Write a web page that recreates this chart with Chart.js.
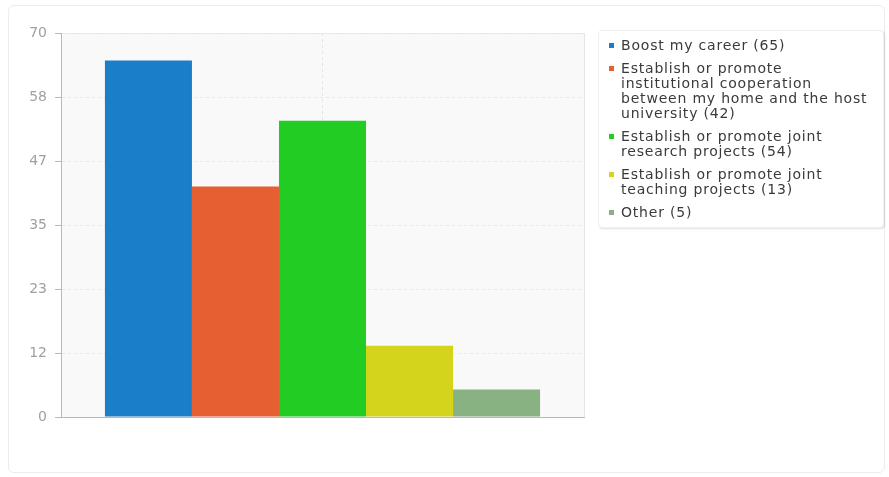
<!DOCTYPE html>
<html>
<head>
<meta charset="utf-8">
<script src="https://cdn.jsdelivr.net/npm/chart.js@4.4.1/dist/chart.umd.min.js"></script>
<style>
  html, body { margin: 0; padding: 0; background: #fff; }
  body { width: 889px; height: 477px; position: relative; overflow: hidden; font-family: "DejaVu Sans", sans-serif; }
  .card { position: absolute; left: 8px; top: 5px; width: 877px; height: 468px; border: 1px solid #ececec; border-radius: 6px; box-sizing: border-box; }
  .chart-wrap { position: absolute; left: 0; top: 0; width: 598px; height: 477px; }
  .legend { position: absolute; left: 598px; top: 30px; width: 286px; height: 198px; box-sizing: border-box;
    background: #fff; border: 1px solid #f0f0f0; border-radius: 4px; box-shadow: 1px 1px 2px rgba(0,0,0,0.12);
    padding: 7px 0 0 10px; }
  .legend-item { display: flex; align-items: flex-start; margin-bottom: 8px; }
  .legend-mark { width: 5px; height: 5px; margin: 5px 7px 0 0; flex: none; }
  .legend-text { width: 255px; font-size: 14px; line-height: 15px; letter-spacing: 0.8px; color: #3a3a3a; }
</style>
</head>
<body>
<div class="card"></div>
<div class="chart-wrap"><canvas id="chart"></canvas></div>
<div class="legend" id="legend"></div>
<script>
  // Data
  const seriesLabels = [
    'Boost my career',
    'Establish or promote institutional cooperation between my home and the host university',
    'Establish or promote joint research projects',
    'Establish or promote joint teaching projects',
    'Other'
  ];
  const seriesValues = [65, 42, 54, 13, 5];
  const seriesColors = ['#1a7fc8', '#e65f33', '#22cc22', '#d4d41c', '#88b282'];
  const yMax = 70;
  const yTickCount = 7;

  // Light plot background and frame, like the original
  const plotFrame = {
    id: 'plotFrame',
    beforeDraw(chart) {
      const a = chart.chartArea;
      const ctx = chart.ctx;
      ctx.save();
      ctx.fillStyle = '#f9f9f9';
      ctx.fillRect(a.left, a.top, a.right - a.left, a.bottom - a.top);
      ctx.strokeStyle = '#e6e6e6';
      ctx.lineWidth = 1;
      ctx.strokeRect(a.left + 0.5, a.top + 0.5, a.right - a.left, a.bottom - a.top);
      ctx.restore();
    }
  };

  const datasets = seriesLabels.map((label, i) => ({
    label: label,
    data: [seriesValues[i]],
    backgroundColor: seriesColors[i],
    borderWidth: 0,
    categoryPercentage: 0.832,
    barPercentage: 1.0
  }));

  new Chart(document.getElementById('chart'), {
    type: 'bar',
    data: { labels: [''], datasets: datasets },
    options: {
      responsive: true,
      maintainAspectRatio: false,
      animation: false,
      layout: { padding: { top: 33, right: 14, bottom: 60, left: 0 } },
      plugins: { legend: { display: false }, tooltip: { enabled: false } },
      scales: {
        x: {
          ticks: { display: false },
          grid: { offset: false, color: '#e4e4e4', drawTicks: false, tickLength: 0 },
          border: { display: true, color: '#b8b8b8', width: 1, dash: [3, 3] },
          afterFit(s) { s.height = 0; }
        },
        y: {
          min: 0,
          max: yMax,
          ticks: {
            count: yTickCount,
            color: '#a0a0a0',
            padding: 8,
            font: { family: 'DejaVu Sans', size: 14 },
            callback: (v) => Math.round(v)
          },
          grid: { color: '#e8e8e8', tickColor: '#b8b8b8', tickLength: 6 },
          border: { display: true, color: '#b8b8b8', width: 1, dash: [3, 3] },
          afterFit(s) { s.width = 61; }
        }
      }
    },
    plugins: [plotFrame]
  });

  // HTML legend so long labels can wrap like the original
  const legend = document.getElementById('legend');
  seriesLabels.forEach((label, i) => {
    const item = document.createElement('div');
    item.className = 'legend-item';
    const mark = document.createElement('span');
    mark.className = 'legend-mark';
    mark.style.background = seriesColors[i];
    const text = document.createElement('span');
    text.className = 'legend-text';
    text.textContent = label + ' (' + seriesValues[i] + ')';
    item.appendChild(mark);
    item.appendChild(text);
    legend.appendChild(item);
  });
</script>
</body>
</html>
